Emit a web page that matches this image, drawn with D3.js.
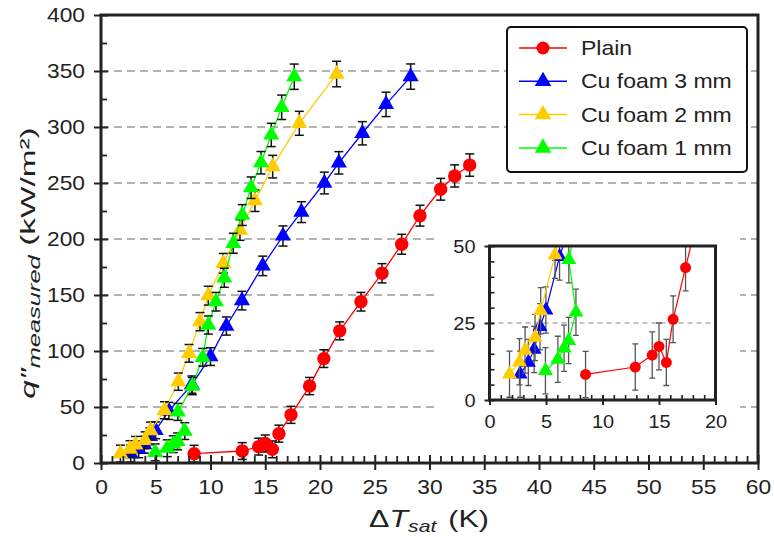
<!DOCTYPE html>
<html>
<head>
<meta charset="utf-8">
<script src="https://cdn.jsdelivr.net/npm/d3@7"></script>
<style>
  html, body { margin: 0; padding: 0; background: #fff; }
  svg { display: block; }
</style>
</head>
<body>
<svg id="chart" width="774" height="537"></svg>
<script>
// ---- data: superheat ΔT_sat (K), heat flux q'' (kW/m²), uncertainty (kW/m²) ----
const seriesNames = ["Plain", "Cu foam 3 mm", "Cu foam 2 mm", "Cu foam 1 mm"];
const seriesColors = ["#ff0000", "#0000ff", "#ffcc00", "#00ff00"];

const plainDT  = [8.5, 12.9, 14.4, 15.0, 15.65, 16.25, 17.35, 19.05, 20.35, 21.8, 23.74, 25.66, 27.46, 29.13, 31.02, 32.3, 33.67];
const plainQ   = [8.3, 10.7, 14.6, 17.4, 12.2, 26.2, 43.0, 68.7, 93.2, 118, 144, 169.4, 195.3, 220.8, 244.4, 256.3, 266];
const plainErr = [7.5, 7.5, 7.5, 7.6, 7.5, 7.6, 7.6, 7.7, 7.9, 8.0, 8.3, 8.6, 8.9, 9.3, 9.7, 9.9, 10.0];

const foam3DT  = [2.71, 3.44, 3.95, 4.47, 4.99, 6.2, 8.3, 10.0, 11.45, 12.87, 14.77, 16.62, 18.3, 20.4, 21.72, 23.87, 26.03, 28.28];
const foam3Q   = [8.4, 12.2, 16.4, 23.8, 29.2, 46.5, 70, 95, 122.3, 145, 176, 202.7, 224, 250, 268, 294.4, 320.2, 345];
const foam3Err = [7.5, 7.5, 7.5, 7.5, 7.5, 7.6, 7.7, 7.9, 8.1, 8.3, 8.7, 9.0, 9.3, 9.7, 10.0, 10.4, 10.9, 11.3];

const foam2DT  = [1.77, 2.65, 3.15, 4.03, 4.53, 5.8, 7.06, 8.04, 9.04, 9.8, 11.17, 12.69, 14.06, 15.68, 18.11, 21.52];
const foam2Q   = [8.4, 12.4, 16.2, 20.3, 29.0, 47.1, 72.6, 97.9, 126.2, 149.4, 178.3, 208, 234.2, 264.6, 303.3, 347.3];
const foam2Err = [7.5, 7.5, 7.5, 7.5, 7.5, 7.6, 7.7, 7.9, 8.1, 8.4, 8.8, 9.2, 9.6, 10.1, 10.7, 11.4];

const foam1DT  = [4.95, 6.05, 6.6, 7.0, 7.65, 7.02, 8.34, 9.29, 9.8, 10.5, 11.26, 12.08, 12.9, 13.7, 14.61, 15.55, 16.5, 17.65];
const foam1Q   = [9.5, 13.2, 16.8, 19.3, 28.5, 45.6, 68.7, 94.4, 123.2, 144, 165.4, 196.2, 221.4, 245.8, 268.1, 292.9, 317.6, 344.9];
const foam1Err = [7.5, 7.5, 7.5, 7.5, 7.5, 7.6, 7.7, 7.9, 8.1, 8.3, 8.5, 8.9, 9.3, 9.6, 10.0, 10.4, 10.9, 11.3];

// axis ticks
const xMajor = d3.range(0, 61, 5);
const xMinor = d3.range(0, 61, 1).filter(v => v % 5 !== 0);
const yMajor = d3.range(0, 401, 50);
const yMinor = d3.range(25, 400, 50);
const yGrid  = d3.range(50, 351, 50);

const insetXMajor = [0, 5, 10, 15, 20];
const insetXMinor = d3.range(0, 21, 1).filter(v => v % 5 !== 0);
const insetYMajor = [0, 25, 50];
const insetYMinor = d3.range(5, 50, 5).filter(v => v % 25 !== 0);
const insetGrid   = [25];

// ---- setup ----
const FONT = "'Liberation Sans', Arial, Helvetica, sans-serif";
const ink = "#222";
const svg = d3.select("#chart");

const x = d3.scaleLinear().domain([0, 60]).range([101, 758]);
const y = d3.scaleLinear().domain([0, 400]).range([463, 15]);
const xi = d3.scaleLinear().domain([0, 20]).range([489.5, 715.5]);
const yi = d3.scaleLinear().domain([0, 50]).range([400, 246]);

const series = [
  { name: seriesNames[0], dt: plainDT, q: plainQ, err: plainErr, color: seriesColors[0], shape: d3.symbolCircle },
  { name: seriesNames[1], dt: foam3DT, q: foam3Q, err: foam3Err, color: seriesColors[1], shape: d3.symbolTriangle },
  { name: seriesNames[2], dt: foam2DT, q: foam2Q, err: foam2Err, color: seriesColors[2], shape: d3.symbolTriangle },
  { name: seriesNames[3], dt: foam1DT, q: foam1Q, err: foam1Err, color: seriesColors[3], shape: d3.symbolTriangle }
];

// widen glyphs horizontally about their anchor point
function stretchText(sel, k) {
  sel.each(function () {
    const t = d3.select(this);
    const x0 = +t.attr("x") || 0, y0 = +t.attr("y") || 0;
    t.attr("x", 0).attr("y", 0).attr("transform", `translate(${x0},${y0}) scale(${k},1)`);
  });
}

// style tick labels of an axis group (d3.axis resets font attributes on call)
function styleTicks(g, size) {
  g.attr("font-family", FONT).attr("font-size", size);
  g.selectAll(".tick text").attr("fill", ink);
}

// ---- main gridlines ----
svg.append("g").selectAll("line").data(yGrid).join("line")
  .attr("x1", x(0)).attr("x2", x(60))
  .attr("y1", d => y(d)).attr("y2", d => y(d))
  .attr("stroke", "#b3b3b3").attr("stroke-width", 1.8).attr("stroke-dasharray", "8,5");

// ---- series drawing ----
function drawSeries(layer, xs, ys, s, sty) {
  const pts = s.dt.map((d, i) => ({ dt: d, q: s.q[i], e: s.err[i] }));
  const line = d3.line().x(d => xs(d.dt)).y(d => ys(d.q));
  layer.append("path").attr("d", line(pts))
    .attr("fill", "none").attr("stroke", s.color).attr("stroke-width", sty.lw);
  const eb = layer.append("g").attr("stroke", sty.errColor).attr("stroke-width", sty.errW);
  eb.selectAll("line.v").data(pts).join("line").attr("class", "v")
    .attr("x1", d => xs(d.dt)).attr("x2", d => xs(d.dt))
    .attr("y1", d => ys(d.q - d.e)).attr("y2", d => ys(d.q + d.e));
  eb.selectAll("line.t").data(pts).join("line").attr("class", "t")
    .attr("x1", d => xs(d.dt) - sty.cap).attr("x2", d => xs(d.dt) + sty.cap)
    .attr("y1", d => ys(d.q + d.e)).attr("y2", d => ys(d.q + d.e));
  eb.selectAll("line.b").data(pts).join("line").attr("class", "b")
    .attr("x1", d => xs(d.dt) - sty.cap).attr("x2", d => xs(d.dt) + sty.cap)
    .attr("y1", d => ys(d.q - d.e)).attr("y2", d => ys(d.q - d.e));
  const sym = d3.symbol().type(s.shape).size(s.shape === d3.symbolCircle ? sty.circ : sty.tri);
  layer.append("g").selectAll("path").data(pts).join("path")
    .attr("transform", d => `translate(${xs(d.dt)},${ys(d.q)})`)
    .attr("d", sym).attr("fill", s.color);
}

const mainLayer = svg.append("g");
series.forEach(s => drawSeries(mainLayer.append("g"), x, y, s,
  { lw: 1.3, errColor: "#111", errW: 1.5, cap: 4.5, circ: 141, tri: 112 }));

// ---- main axes ----
const gY = svg.append("g").attr("transform", `translate(${x(0)},0)`)
  .call(d3.axisLeft(y).tickValues(yMajor).tickSize(7).tickPadding(9).tickFormat(d3.format("d")));
gY.select(".domain").remove();
gY.selectAll(".tick line").attr("x1", 7).attr("stroke", ink).attr("stroke-width", 2);
styleTicks(gY, 20);
stretchText(gY.selectAll(".tick text"), 1.14);

const gYm = svg.append("g").attr("transform", `translate(${x(0)},0)`)
  .call(d3.axisLeft(y).tickValues(yMinor).tickSize(-6).tickFormat(""));
gYm.select(".domain").remove();
gYm.selectAll(".tick line").attr("stroke", ink).attr("stroke-width", 1.8);

const gX = svg.append("g").attr("transform", `translate(0,${y(0)})`)
  .call(d3.axisBottom(x).tickValues(xMajor).tickSize(7).tickFormat(d3.format("d")));
gX.select(".domain").remove();
gX.selectAll(".tick line").attr("y1", -8).attr("stroke", ink).attr("stroke-width", 2);
styleTicks(gX, 20);
gX.selectAll(".tick text").attr("y", 31).attr("dy", null);
stretchText(gX.selectAll(".tick text"), 1.14);

const gXm = svg.append("g").attr("transform", `translate(0,${y(0)})`)
  .call(d3.axisBottom(x).tickValues(xMinor).tickSize(-7).tickFormat(""));
gXm.select(".domain").remove();
gXm.selectAll(".tick line").attr("stroke", ink).attr("stroke-width", 1.8);

svg.append("rect")
  .attr("x", x(0)).attr("y", y(400)).attr("width", x(60) - x(0)).attr("height", y(0) - y(400))
  .attr("fill", "none").attr("stroke", ink).attr("stroke-width", 3);

// ---- axis titles ----
const xTitle = svg.append("text")
  .attr("font-family", FONT).attr("font-size", 23).attr("fill", ink)
  .attr("text-anchor", "middle");
xTitle.append("tspan").text("Δ");
xTitle.append("tspan").attr("font-style", "italic").text("T");
xTitle.append("tspan").attr("font-style", "italic").attr("font-size", 16).attr("dy", 5).text("sat");
xTitle.append("tspan").attr("dy", -5).attr("dx", 9).text("(K)");
{
  const k = 108 / xTitle.node().getComputedTextLength();
  xTitle.attr("transform", `translate(429,527) scale(${k},1)`);
}

const yTitle = svg.append("text")
  .attr("font-family", FONT).attr("font-size", 21).attr("fill", ink)
  .attr("text-anchor", "middle");
yTitle.append("tspan").attr("font-style", "italic").text("q″");
yTitle.append("tspan").attr("font-style", "italic").attr("font-size", 16).attr("dy", 5).text("measured");
yTitle.append("tspan").attr("dy", -5).attr("dx", 6).text("(kW/m²)");
{
  const k = 262 / yTitle.node().getComputedTextLength();
  yTitle.attr("transform", `translate(35,263) rotate(-90) scale(${k},1)`);
}

// ---- inset: low heat-flux region ----
const inset = svg.append("g");
inset.append("rect").attr("x", 438).attr("y", 228).attr("width", 302).attr("height", 212).attr("fill", "#fff");

inset.append("g").selectAll("line").data(insetGrid).join("line")
  .attr("x1", xi(0)).attr("x2", xi(20))
  .attr("y1", d => yi(d)).attr("y2", d => yi(d))
  .attr("stroke", "#b0b0b0").attr("stroke-width", 1.4).attr("stroke-dasharray", "5,4");

svg.append("clipPath").attr("id", "insetClip").append("rect")
  .attr("x", xi(0)).attr("y", yi(50)).attr("width", xi(20) - xi(0)).attr("height", yi(0) - yi(50));

const insetData = inset.append("g").attr("clip-path", "url(#insetClip)");
series.forEach(s => drawSeries(insetData.append("g"), xi, yi, s,
  { lw: 1.2, errColor: "#555", errW: 1.3, cap: 3, circ: 95, tri: 98 }));

const giY = inset.append("g").attr("transform", `translate(${xi(0)},0)`)
  .call(d3.axisLeft(yi).tickValues(insetYMajor).tickSize(5).tickPadding(9).tickFormat(d3.format("d")));
giY.select(".domain").remove();
giY.selectAll(".tick line").attr("x1", 5).attr("stroke", ink).attr("stroke-width", 2);
styleTicks(giY, 19);
stretchText(giY.selectAll(".tick text"), 1.05);

const giYm = inset.append("g").attr("transform", `translate(${xi(0)},0)`)
  .call(d3.axisLeft(yi).tickValues(insetYMinor).tickSize(-5).tickFormat(""));
giYm.select(".domain").remove();
giYm.selectAll(".tick line").attr("stroke", ink).attr("stroke-width", 1.6);

const giX = inset.append("g").attr("transform", `translate(0,${yi(0)})`)
  .call(d3.axisBottom(xi).tickValues(insetXMajor).tickSize(5).tickFormat(d3.format("d")));
giX.select(".domain").remove();
giX.selectAll(".tick line").attr("y1", -5).attr("stroke", ink).attr("stroke-width", 2);
styleTicks(giX, 19);
giX.selectAll(".tick text").attr("y", 28).attr("dy", null);
stretchText(giX.selectAll(".tick text"), 1.05);

const giXm = inset.append("g").attr("transform", `translate(0,${yi(0)})`)
  .call(d3.axisBottom(xi).tickValues(insetXMinor).tickSize(-5).tickFormat(""));
giXm.select(".domain").remove();
giXm.selectAll(".tick line").attr("stroke", ink).attr("stroke-width", 1.6);

inset.append("rect")
  .attr("x", xi(0)).attr("y", yi(50)).attr("width", xi(20) - xi(0)).attr("height", yi(0) - yi(50))
  .attr("fill", "none").attr("stroke", ink).attr("stroke-width", 3);

// ---- legend ----
const legend = svg.append("g");
legend.append("rect")
  .attr("x", 507).attr("y", 27).attr("width", 240).attr("height", 145).attr("rx", 4)
  .attr("fill", "#fff").attr("stroke", "#111").attr("stroke-width", 2);
series.forEach((s, i) => {
  const cy = 48 + i * 33.3;
  const row = legend.append("g");
  row.append("line").attr("x1", 519).attr("x2", 567).attr("y1", cy).attr("y2", cy)
    .attr("stroke", s.color).attr("stroke-width", 1.5);
  row.append("path").attr("transform", `translate(543,${cy})`)
    .attr("d", d3.symbol().type(s.shape).size(s.shape === d3.symbolCircle ? 133 : 118)())
    .attr("fill", s.color);
  const t = row.append("text").attr("x", 581).attr("y", cy).attr("dy", "0.35em")
    .attr("font-family", FONT).attr("font-size", 20).attr("fill", ink).text(s.name);
  stretchText(t, 1.15);
});
</script>
</body>
</html>
